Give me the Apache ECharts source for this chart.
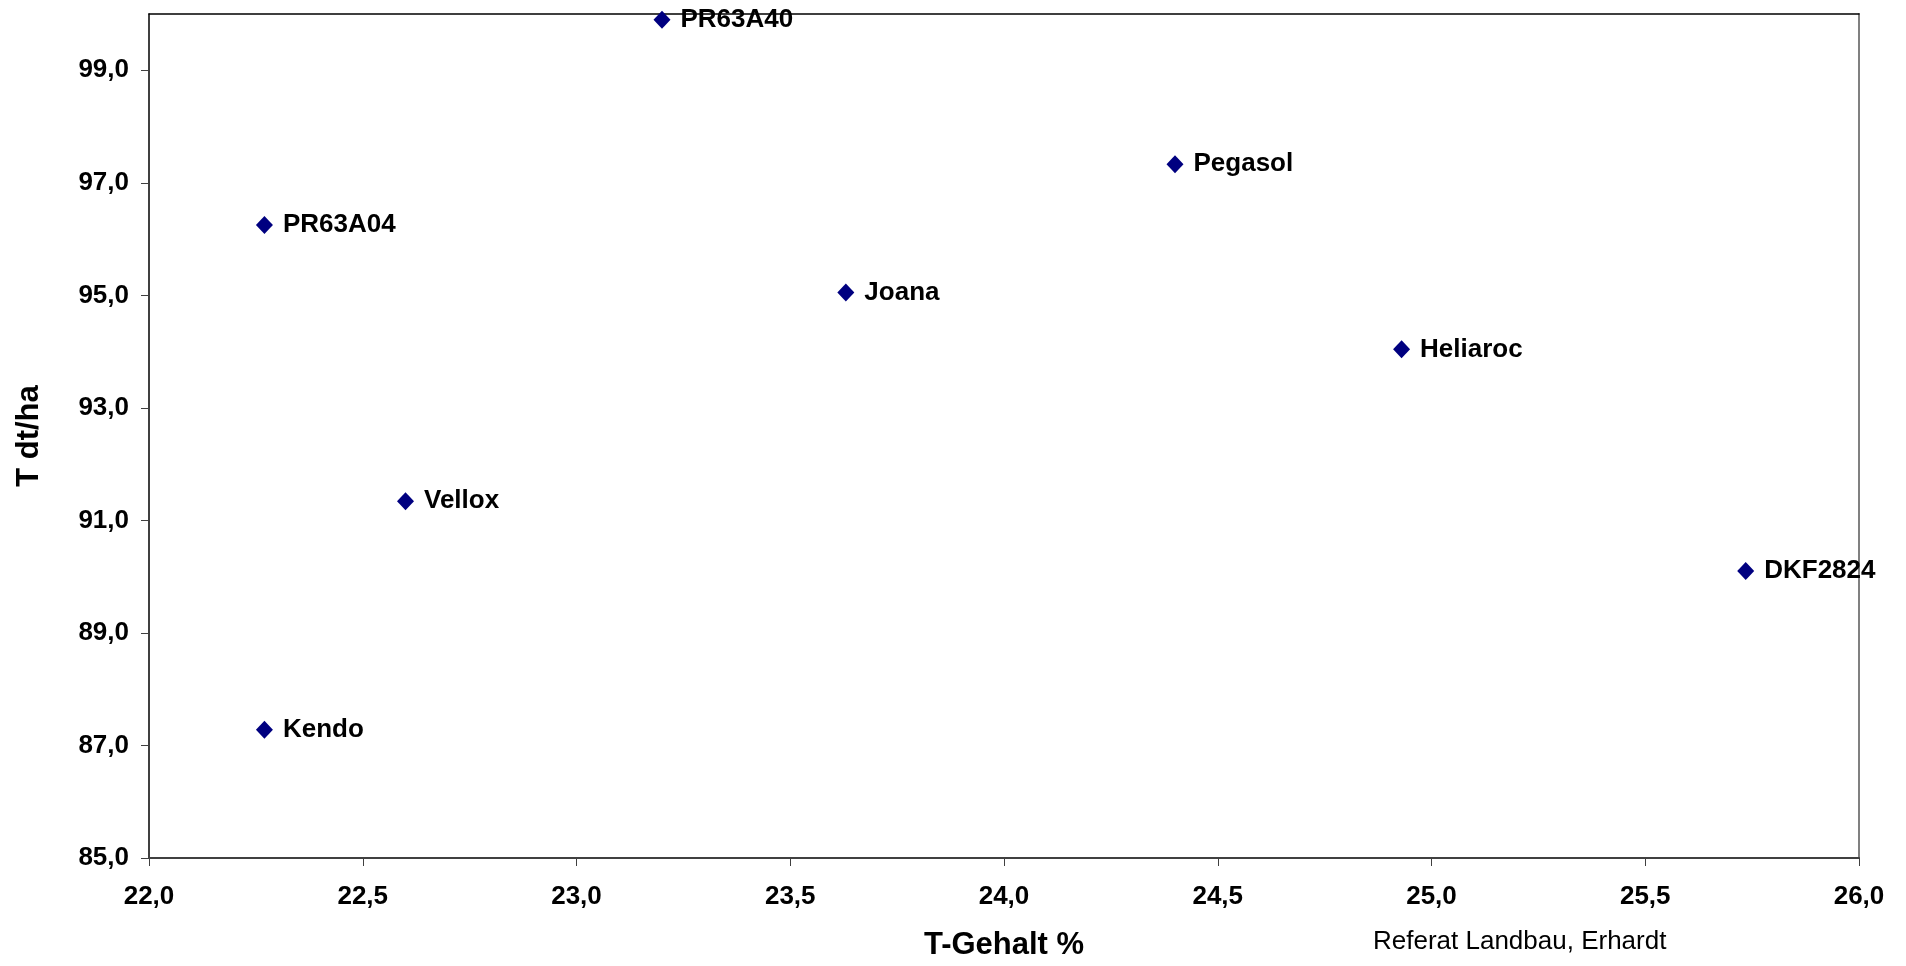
<!DOCTYPE html>
<html>
<head>
<meta charset="utf-8">
<script src="https://cdn.jsdelivr.net/npm/echarts@6/dist/echarts.min.js"></script>
<style>html,body{margin:0;padding:0;background:#fff}#c{width:1906px;height:966px}</style>
</head>
<body>
<div id="c"></div>
<script>
const names = ['PR63A40','Pegasol','PR63A04','Joana','Heliaroc','Vellox','DKF2824','Kendo'];
const tGehalt = [23.20, 24.40, 22.27, 23.63, 24.93, 22.60, 25.735, 22.27];
const tErtrag = [99.90, 97.33, 96.25, 95.05, 94.04, 91.34, 90.10, 87.28];
const xTicks = {min: 22, max: 26, interval: 0.5};
const yTicks = {min: 85, max: 100, interval: 2};

const fmt = v => v.toFixed(1).replace('.', ',');
const FONT = '"Liberation Sans", Arial, sans-serif';

const chart = echarts.init(document.getElementById('c'));
chart.setOption({
  animation: false,
  backgroundColor: '#fff',
  grid: {left: 149, right: 47, top: 14, bottom: 107, show: false},
  xAxis: [{
    type: 'value', min: xTicks.min, max: xTicks.max, interval: xTicks.interval,
    name: 'T-Gehalt %', nameLocation: 'middle', nameGap: 72,
    nameTextStyle: {fontFamily: FONT, fontWeight: 'bold', fontSize: 31, color: '#000'},
    axisLine: {show: true, onZero: false, lineStyle: {color: '#404040', width: 2}},
    axisTick: {show: true, length: 8, lineStyle: {color: '#404040', width: 1}},
    axisLabel: {formatter: fmt, margin: 26, fontFamily: FONT, fontWeight: 'bold', fontSize: 26, color: '#000'},
    splitLine: {show: false}
  }, {
    type: 'value', position: 'top', min: xTicks.min, max: xTicks.max,
    axisLine: {show: true, onZero: false, lineStyle: {color: '#000', width: 1.5}},
    axisTick: {show: false}, axisLabel: {show: false}, splitLine: {show: false}
  }],
  yAxis: [{
    type: 'value', min: yTicks.min, max: yTicks.max, interval: yTicks.interval,
    name: 'T dt/ha', nameLocation: 'middle', nameGap: 104, nameRotate: 90,
    nameTextStyle: {fontFamily: FONT, fontWeight: 'bold', fontSize: 31, color: '#000'},
    axisLine: {show: true, onZero: false, lineStyle: {color: '#000', width: 1.5}},
    axisTick: {show: true, length: 8, lineStyle: {color: '#404040', width: 1}},
    axisLabel: {formatter: fmt, margin: 20, showMaxLabel: false, fontFamily: FONT, fontWeight: 'bold', fontSize: 26, color: '#000'},
    splitLine: {show: false}
  }, {
    type: 'value', position: 'right', min: yTicks.min, max: yTicks.max,
    axisLine: {show: true, onZero: false, lineStyle: {color: '#808080', width: 2}},
    axisTick: {show: false}, axisLabel: {show: false}, splitLine: {show: false}
  }],
  graphic: [{
    type: 'text', left: 1373, top: 929,
    style: {text: 'Referat Landbau, Erhardt', font: '26px "Liberation Sans", Arial, sans-serif', fill: '#000'}
  }],
  series: [{
    type: 'scatter',
    symbol: 'diamond',
    symbolSize: [17, 18],
    clip: false,
    itemStyle: {color: '#000080', opacity: 1},
    label: {
      show: true, position: 'right', distance: 10,
      formatter: p => names[p.dataIndex],
      fontFamily: FONT, fontWeight: 'bold', fontSize: 26, color: '#000', opacity: 1
    },
    data: tGehalt.map((x, i) => [x, tErtrag[i]])
  }]
});
</script>
</body>
</html>
